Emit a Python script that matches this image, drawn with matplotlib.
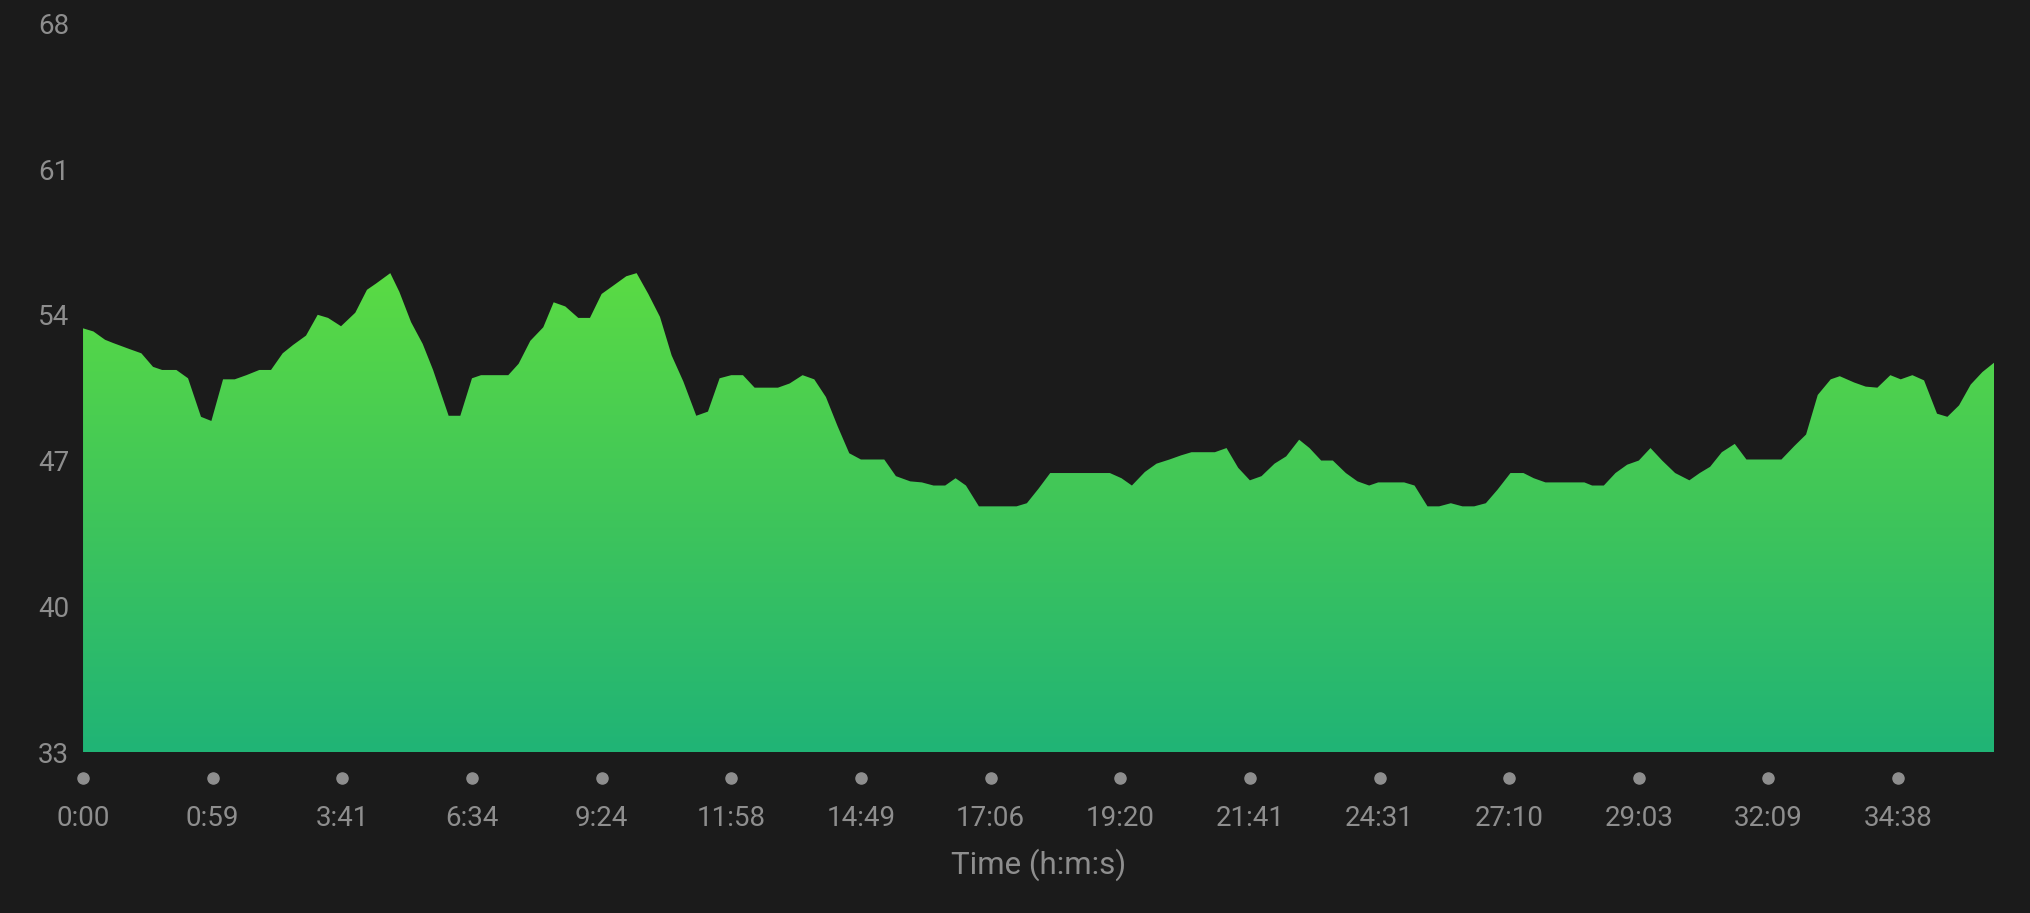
import numpy as np
import matplotlib
matplotlib.use("Agg")
import matplotlib.pyplot as plt
from matplotlib.colors import LinearSegmentedColormap

# position along the x axis (1.0 = one tick interval) and the plotted value
dist = [0.00, 0.08, 0.17, 0.23, 0.36, 0.45, 0.54, 0.61, 0.72, 0.81, 0.91, 0.99,
        1.08, 1.17, 1.26, 1.36, 1.45, 1.54, 1.62, 1.72, 1.81, 1.89, 1.99, 2.10,
        2.19, 2.26, 2.37, 2.44, 2.53, 2.62, 2.70, 2.82, 2.91, 3.00, 3.07, 3.28,
        3.36, 3.45, 3.55, 3.63, 3.72, 3.82, 3.91, 4.00, 4.09, 4.19, 4.27, 4.36,
        4.45, 4.54, 4.63, 4.73, 4.82, 4.91, 5.00, 5.09, 5.18, 5.36, 5.45, 5.55,
        5.64, 5.73, 5.82, 5.91, 6.00, 6.18, 6.27, 6.38, 6.47, 6.56, 6.65, 6.73,
        6.81, 6.91, 7.20, 7.28, 7.37, 7.46, 7.92, 8.01, 8.09, 8.19, 8.28, 8.38,
        8.47, 8.55, 8.73, 8.82, 8.91, 9.00, 9.09, 9.19, 9.28, 9.38, 9.46, 9.55,
        9.64, 9.74, 9.83, 9.92, 9.99, 10.19, 10.27, 10.37, 10.46, 10.55, 10.64,
        10.73, 10.82, 10.91, 11.01, 11.11, 11.19, 11.28, 11.58, 11.64, 11.73,
        11.82, 11.91, 12.00, 12.09, 12.18, 12.28, 12.39, 12.47, 12.55, 12.64,
        12.74, 12.83, 13.10, 13.20, 13.29, 13.38, 13.48, 13.55, 13.66, 13.75,
        13.84, 13.94, 14.02, 14.11, 14.20, 14.30, 14.38, 14.47, 14.56, 14.65,
        14.74]
value = [53.35, 53.2, 52.8, 52.65, 52.35, 52.15, 51.5, 51.35, 51.35, 50.95, 49.1, 48.9,
         50.9, 50.9, 51.1, 51.35, 51.35, 52.15, 52.55, 53.0, 54.0, 53.85, 53.45, 54.1,
         55.2, 55.5, 56.0, 55.1, 53.65, 52.6, 51.35, 49.15, 49.15, 50.95, 51.1, 51.1,
         51.65, 52.75, 53.4, 54.6, 54.4, 53.85, 53.85, 55.0, 55.4, 55.85, 56.0, 55.0,
         53.9, 52.05, 50.8, 49.15, 49.35, 50.95, 51.1, 51.1, 50.5, 50.5, 50.7, 51.1,
         50.9, 50.05, 48.65, 47.35, 47.05, 47.05, 46.25, 46.0, 45.95, 45.8, 45.8, 46.15,
         45.8, 44.8, 44.8, 44.95, 45.65, 46.4, 46.4, 46.15, 45.8, 46.45, 46.85, 47.05,
         47.25, 47.4, 47.4, 47.6, 46.65, 46.05, 46.25, 46.85, 47.2, 48.0, 47.6, 47.0,
         47.0, 46.4, 46.0, 45.8, 45.95, 45.95, 45.8, 44.8, 44.8, 44.95, 44.8,
         44.8, 44.95, 45.6, 46.4, 46.4, 46.15, 45.95, 45.95, 45.8, 45.8,
         46.4, 46.8, 47.0, 47.6, 47.0, 46.4, 46.05, 46.4, 46.7, 47.4,
         47.8, 47.05, 47.05, 47.7, 48.25, 50.15, 50.9, 51.05, 50.75, 50.55,
         50.5, 51.1, 50.9, 51.1, 50.85, 49.25, 49.1, 49.65, 50.65, 51.25,
         51.7]
tick_labels = ["0:00", "0:59", "3:41", "6:34", "9:24", "11:58", "14:49", "17:06",
               "19:20", "21:41", "24:31", "27:10", "29:03", "32:09", "34:38"]
y_ticks = [33, 40, 47, 54, 61, 68]

bg = "#1b1b1b"
grey = "#8e8e8e"
plt.rcParams["font.family"] = ["Roboto", "DejaVu Sans"]

fig = plt.figure(figsize=(20.30, 9.13), dpi=100, facecolor=bg)
ax = fig.add_axes([0.0409, 0.1763, 0.9414, 0.7982], facecolor=bg)

x = np.array(dist)
y = np.array(value)
ymin, ymax = y_ticks[0], y_ticks[-1]

# gradient fill clipped to the area under the curve
poly = ax.fill_between(x, ymin, y, color="none", lw=0)
cmap = LinearSegmentedColormap.from_list("g", ["#20b476", "#3fc55a", "#5adb44"])
grad = np.linspace(0, 1, 256).reshape(-1, 1)
img = ax.imshow(grad, cmap=cmap, origin="lower", aspect="auto",
                extent=[x[0], x[-1], ymin, y.max()], interpolation="bicubic")
img.set_clip_path(poly.get_paths()[0], transform=ax.transData)

ax.set_xlim(0, x[-1])
ax.set_ylim(ymin, ymax)

ax.set_yticks(y_ticks)
ax.set_xticks(range(len(tick_labels)))
ax.set_xticklabels(tick_labels)
ax.tick_params(axis="y", length=0, pad=10, labelsize=20, labelcolor=grey)
ax.tick_params(axis="x", length=0, pad=38, labelsize=20, labelcolor=grey)
for s in ax.spines.values():
    s.set_visible(False)

# the little dots above the time labels
ax.plot(range(len(tick_labels)), [-0.036] * len(tick_labels), "o", ms=8,
        color=grey, transform=ax.get_xaxis_transform(), clip_on=False)

ax.set_xlabel("Time (h:m:s)", fontsize=22.5, color=grey, labelpad=12)

fig.savefig("out.png", facecolor=bg)
